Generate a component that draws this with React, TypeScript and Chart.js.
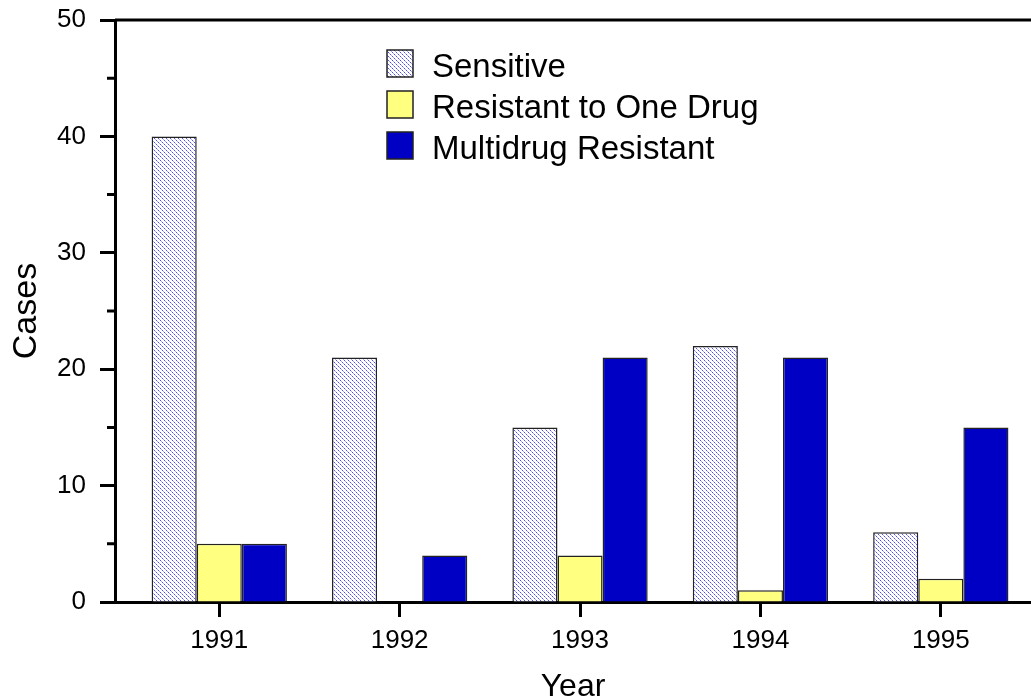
import React, { useEffect, useRef } from 'react';
import { Chart, registerables } from 'chart.js';

Chart.register(...registerables);

const years = [1991, 1992, 1993, 1994, 1995];
const sensitive = [40, 21, 15, 22, 6];
const oneDrug = [5, 0, 4, 1, 2];
const multidrug = [5, 4, 21, 21, 15];
const yMajorTicks = [0, 10, 20, 30, 40, 50];
const yMinorTicks = [5, 15, 25, 35, 45];
const seriesNames = ['Sensitive', 'Resistant to One Drug', 'Multidrug Resistant'];

const FONT = "'Liberation Sans', Arial, Helvetica, sans-serif";

function makeHatch(): CanvasPattern | string {
  const c = document.createElement('canvas');
  c.width = 8;
  c.height = 8;
  const ctx = c.getContext('2d');
  if (!ctx) return '#ccccff';
  ctx.fillStyle = '#ffffff';
  ctx.fillRect(0, 0, 8, 8);
  for (let y = 0; y < 8; y++) {
    for (let x = 0; x < 8; x++) {
      if ((((x - y) % 4) + 4) % 4 === 0) {
        ctx.fillStyle = x % 2 === 0 ? 'rgb(80,80,235)' : 'rgb(170,170,245)';
        ctx.fillRect(x, y, 1, 1);
      }
    }
  }
  return ctx.createPattern(c, 'repeat') || '#ccccff';
}

const framePlugin = {
  id: 'frameAndLegend',
  afterDraw(chart: any) {
    const { ctx, chartArea, scales } = chart;
    const ys = scales.y;
    ctx.save();
    ctx.strokeStyle = '#000';
    ctx.lineWidth = 3;
    ctx.lineCap = 'butt';
    const top = ys.getPixelForValue(50);
    ctx.beginPath();
    ctx.moveTo(chartArea.left, top);
    ctx.lineTo(chartArea.right, top);
    ctx.stroke();
    ctx.beginPath();
    for (const v of yMinorTicks) {
      const py = ys.getPixelForValue(v);
      ctx.moveTo(chartArea.left - 8, py);
      ctx.lineTo(chartArea.left, py);
    }
    ctx.stroke();
    const bx = 387;
    const rowTops = [50, 91, 132];
    ctx.font = `33px ${FONT}`;
    ctx.textBaseline = 'middle';
    ctx.textAlign = 'left';
    chart.data.datasets.forEach((ds: any, i: number) => {
      const ty = rowTops[i];
      ctx.fillStyle = ds.backgroundColor;
      ctx.fillRect(bx, ty, 26, 27);
      ctx.lineWidth = 1.5;
      ctx.strokeStyle = '#222';
      ctx.strokeRect(bx, ty, 26, 27);
      ctx.fillStyle = '#000';
      ctx.fillText(seriesNames[i], 432, ty + 18);
    });
    ctx.restore();
  },
};

export default function App() {
  const ref = useRef<HTMLCanvasElement | null>(null);
  useEffect(() => {
    document.body.style.margin = '0';
    document.body.style.overflow = 'hidden';
    const canvas = ref.current;
    if (!canvas) return;
    const hatch = makeHatch();
    const chart = new Chart(canvas, {
      type: 'bar',
      data: {
        labels: years,
        datasets: [
          { label: seriesNames[0], data: sensitive, backgroundColor: hatch as any, borderColor: '#222', borderWidth: 1.5 },
          { label: seriesNames[1], data: oneDrug, backgroundColor: '#ffff80', borderColor: '#222', borderWidth: 1.5 },
          { label: seriesNames[2], data: multidrug, backgroundColor: '#0000c4', borderColor: '#222', borderWidth: 1.5 },
        ],
      },
      options: {
        responsive: false,
        animation: false,
        devicePixelRatio: 1,
        categoryPercentage: 0.75,
        barPercentage: 1.0,
        layout: { padding: { top: 20, right: 0, left: 0, bottom: 0 } },
        plugins: { legend: { display: false }, tooltip: { enabled: false } },
        scales: {
          x: {
            type: 'linear',
            min: 1990.422,
            max: 1995.5,
            offset: false,
            afterBuildTicks: (s: any) => {
              s.ticks = years.map((v) => ({ value: v }));
            },
            afterFit: (s: any) => {
              s.height = 96;
              s.paddingLeft = 0;
              s.paddingRight = 0;
            },
            border: { display: true, color: '#000', width: 3 },
            grid: { offset: false, drawOnChartArea: false, drawTicks: true, tickLength: 15, tickWidth: 3, tickColor: '#000' },
            ticks: {
              color: '#000',
              font: { family: FONT, size: 26 },
              padding: 8,
              maxRotation: 0,
              callback: (v: any) => String(v),
            },
            title: {
              display: true,
              text: 'Year',
              color: '#000',
              font: { family: FONT, size: 32, lineHeight: 0.7 },
              padding: { top: 0, bottom: 0 },
            },
          },
          y: {
            min: 0,
            max: 50,
            afterBuildTicks: (s: any) => {
              s.ticks = yMajorTicks.map((v) => ({ value: v }));
            },
            afterFit: (s: any) => {
              s.width = 115;
              s.paddingTop = 0;
              s.paddingBottom = 0;
            },
            border: { display: true, color: '#000', width: 3 },
            grid: { drawOnChartArea: false, drawTicks: true, tickLength: 15, tickWidth: 3, tickColor: '#000' },
            ticks: {
              color: '#000',
              font: { family: FONT, size: 26 },
              padding: 14,
              callback: (v: any) => String(v),
            },
            title: {
              display: true,
              text: 'Cases',
              color: '#000',
              font: { family: FONT, size: 34 },
              padding: { top: 6, bottom: 0 },
            },
          },
        },
      },
      plugins: [framePlugin],
    });
    return () => chart.destroy();
  }, []);
  return <canvas ref={ref} width={1031} height={698} style={{ display: 'block', width: 1031, height: 698 }} />;
}
